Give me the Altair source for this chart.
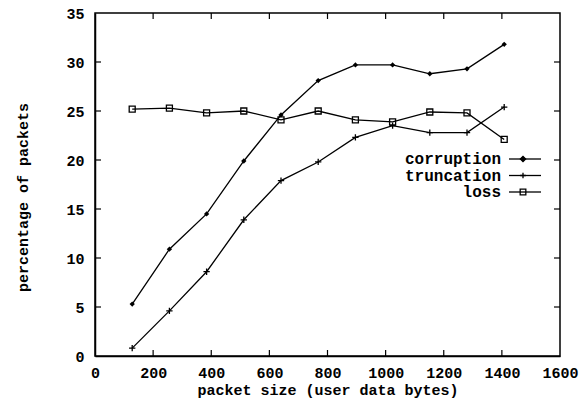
import altair as alt
import pandas as pd

sizes = [128, 256, 384, 512, 640, 768, 896, 1024, 1152, 1280, 1408]
corruption = [5.3, 10.9, 14.5, 19.9, 24.6, 28.1, 29.7, 29.7, 28.8, 29.3, 31.8]
truncation = [0.8, 4.6, 8.6, 13.9, 17.9, 19.8, 22.3, 23.5, 22.8, 22.8, 25.4]
loss = [25.2, 25.3, 24.8, 25.0, 24.1, 25.0, 24.1, 23.9, 24.9, 24.8, 22.1]
series_names = ["corruption", "truncation", "loss"]
x_ticks = [0, 200, 400, 600, 800, 1000, 1200, 1400, 1600]
y_ticks = [0, 5, 10, 15, 20, 25, 30, 35]

FONT = "Liberation Mono"
W, H = 465, 343

rows = []
for name, vals in zip(series_names, [corruption, truncation, loss]):
    for s, v in zip(sizes, vals):
        rows.append({"series": name, "size": s, "pct": v})
df = pd.DataFrame(rows)

xs = alt.Scale(domain=[0, 1600], nice=False)
ys = alt.Scale(domain=[0, 35], nice=False)

shape_scale = alt.Scale(
    domain=series_names,
    range=["diamond", "M-1,0H1M0,-1V1", "square"],
)

base = alt.Chart(df)

lines = base.mark_line(color="black", strokeWidth=1.3).encode(
    x=alt.X("size:Q", scale=xs,
            axis=alt.Axis(values=x_ticks, format="d", labelFlush=False,
                          title="packet size (user data bytes)",
                          titleY=26, titleBaseline="top")),
    y=alt.Y("pct:Q", scale=ys,
            axis=alt.Axis(values=y_ticks, format="d", labelFlush=False,
                          title="percentage of packets",
                          titleX=-73, titleY=184, titleAlign="center",
                          titleBaseline="middle", titleAngle=270)),
    detail="series:N",
)

pts_diamond = base.transform_filter(alt.datum.series == "corruption").mark_point(
    shape="diamond", filled=True, color="black", size=28, opacity=1
).encode(x=alt.X("size:Q", scale=xs), y=alt.Y("pct:Q", scale=ys))

pts_cross = base.transform_filter(alt.datum.series == "truncation").mark_point(
    shape="M-1,0H1M0,-1V1", filled=False, color="black", size=40, strokeWidth=1.3, opacity=1
).encode(x=alt.X("size:Q", scale=xs), y=alt.Y("pct:Q", scale=ys))

pts_square = base.transform_filter(alt.datum.series == "loss").mark_point(
    shape="square", filled=False, color="black", size=36, strokeWidth=1.3, opacity=1
).encode(x=alt.X("size:Q", scale=xs), y=alt.Y("pct:Q", scale=ys))

# inward ticks (gnuplot style) on all four sides
xt = pd.DataFrame({"v": x_ticks[1:-1]})
yt = pd.DataFrame({"v": y_ticks[1:-1]})
tick_style = dict(color="black", strokeWidth=1.2)
xb = alt.Chart(xt).mark_rule(**tick_style).encode(
    x=alt.X("v:Q", scale=xs), y=alt.value(H), y2=alt.value(H - 6))
xtop = alt.Chart(xt).mark_rule(**tick_style).encode(
    x=alt.X("v:Q", scale=xs), y=alt.value(0), y2=alt.value(6))
yl = alt.Chart(yt).mark_rule(**tick_style).encode(
    y=alt.Y("v:Q", scale=ys), x=alt.value(0), x2=alt.value(6))
yr = alt.Chart(yt).mark_rule(**tick_style).encode(
    y=alt.Y("v:Q", scale=ys), x=alt.value(W), x2=alt.value(W - 6))

# manual legend (label left, sample right)
leg = pd.DataFrame({"series": series_names, "row": [0, 1, 2]})
lchart = alt.Chart(leg).transform_calculate(py="146 + datum.row * 16.5")
leg_text = lchart.mark_text(
    align="right", baseline="middle", font=FONT, fontSize=16, fontWeight="bold", color="black"
).encode(text="series:N", x=alt.value(406), y=alt.Y("py:Q", scale=None))
leg_line = lchart.mark_rule(color="black", strokeWidth=1.3).encode(
    x=alt.value(414), x2=alt.value(446), y=alt.Y("py:Q", scale=None))
leg_pts = lchart.mark_point(filled=False, color="black", opacity=1, strokeWidth=1.3).encode(
    x=alt.value(428), y=alt.Y("py:Q", scale=None),
    shape=alt.Shape("series:N", scale=shape_scale, legend=None),
    fill=alt.condition(alt.datum.series == "corruption", alt.value("black"), alt.value("transparent")),
    size=alt.condition(alt.datum.series == "corruption", alt.value(28), alt.value(32)),
)

chart = alt.layer(
    lines, pts_diamond, pts_cross, pts_square, xb, xtop, yl, yr, leg_line, leg_pts, leg_text
).properties(
    width=W, height=H,
    autosize=alt.AutoSizeParams(type="none"),
    padding={"left": 95, "top": 13, "right": 20, "bottom": 43},
    background="white",
).configure_view(
    stroke="black", strokeWidth=1.5
).configure_axis(
    grid=False, ticks=False, domain=True, domainColor="black", domainWidth=1.5,
    labelFont=FONT, labelFontSize=15, labelFontWeight="bold", labelColor="black",
    titleFont=FONT, titleFontSize=15, titleFontWeight="bold", titleColor="black",
).configure_axisX(
    labelPadding=9
).configure_axisY(
    labelPadding=11
)

chart.save("out.html", embed_options={"renderer": "svg", "actions": False})
